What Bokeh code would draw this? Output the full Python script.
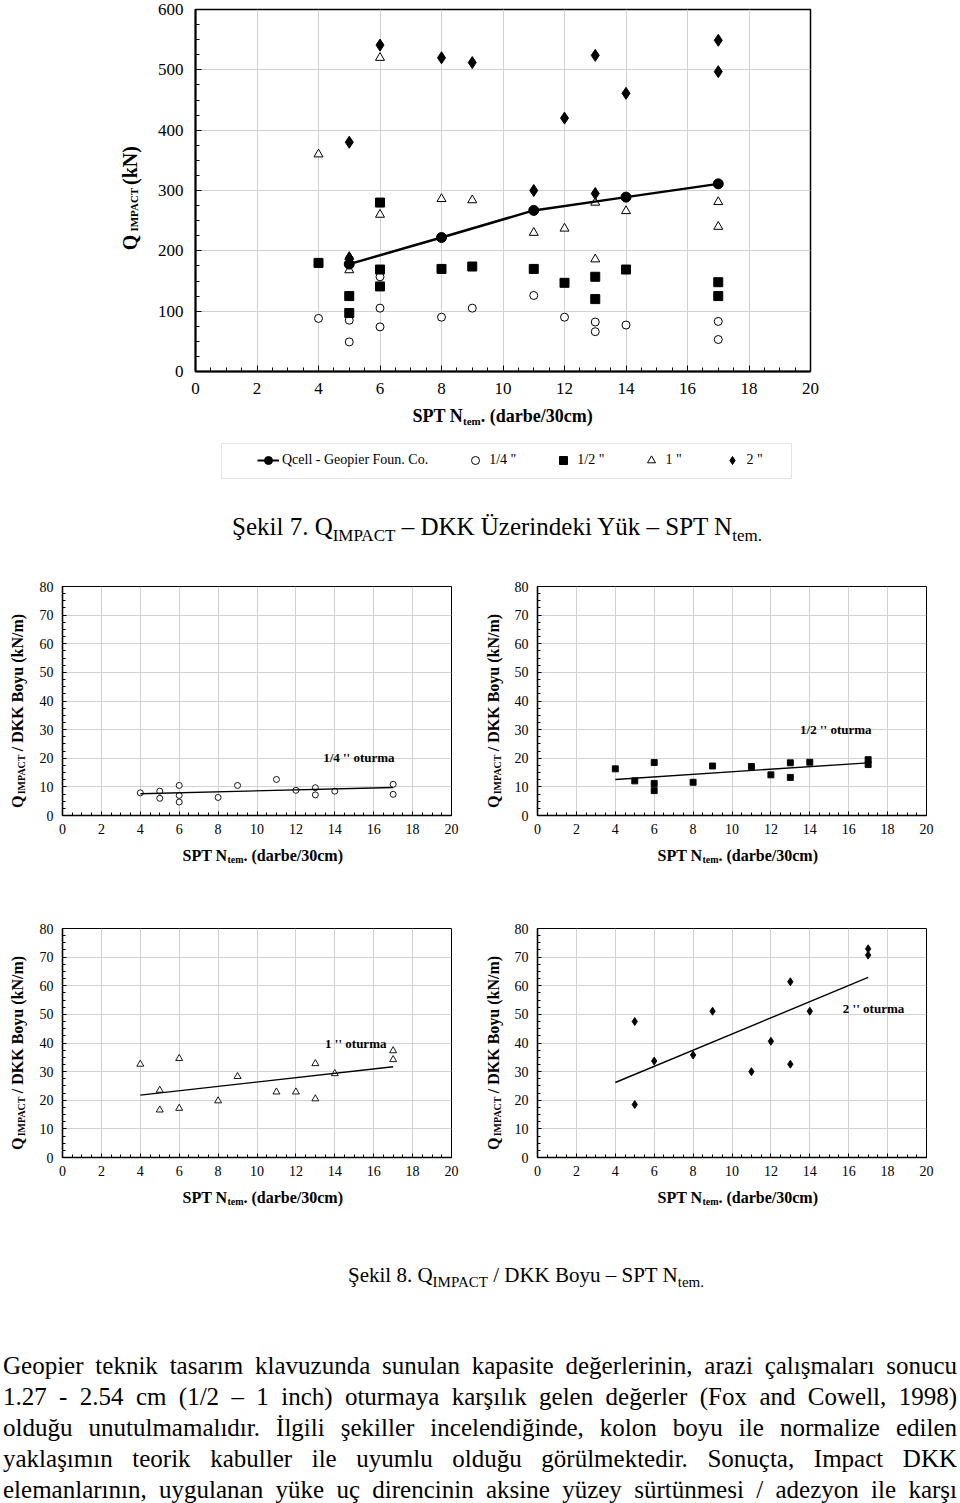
import math
from bokeh.plotting import figure
from bokeh.models import Range1d, SingleIntervalTicker, Label, Legend, LegendItem, Div, BoxAnnotation
from bokeh.layouts import column, row
from bokeh.embed import file_html
from bokeh.resources import INLINE

SERIF = "Liberation Serif"

# ---------------- Data: Şekil 7 (Q IMPACT, kN) ----------------
qcell_x = [5, 8, 11, 14, 17]
qcell_y = [178, 222, 267, 289, 311]

q14_x = [4, 5, 5, 6, 6, 6, 8, 9, 11, 12, 13, 13, 14, 17, 17]
q14_y = [88, 85, 49, 157, 105, 74, 90, 105, 126, 90, 82, 66, 77, 83, 53]

q12_x = [4, 5, 5, 6, 6, 6, 8, 9, 11, 12, 13, 13, 14, 17, 17]
q12_y = [180, 125, 97, 280, 169, 141, 170, 174, 170, 147, 157, 120, 169, 148, 125]

q1_x = [4, 5, 5, 6, 6, 8, 9, 11, 12, 13, 13, 14, 17, 17]
q1_y = [360, 190, 168, 520, 260, 286, 284, 230, 237, 280, 186, 266, 281, 240]

q2_x = [5, 5, 6, 8, 9, 11, 12, 13, 13, 14, 17, 17]
q2_y = [380, 188, 541, 520, 512, 300, 420, 524, 295, 461, 549, 497]

# ---------------- Data: Şekil 8 (Q IMPACT / DKK Boyu, kN/m) ----------------
n14_x = [4, 5, 5, 6, 6, 6, 8, 9, 11, 12, 13, 13, 14, 17, 17]
n14_y = [7.9, 8.5, 6.0, 10.5, 7.0, 4.7, 6.3, 10.5, 12.6, 8.8, 9.7, 7.2, 8.5, 10.9, 7.4]
t14_x = [4, 17]
t14_y = [7.6, 9.8]

n12_x = [4, 5, 6, 6, 6, 8, 9, 11, 12, 13, 13, 14, 17, 17]
n12_y = [16.3, 12.1, 18.5, 11.2, 8.7, 11.6, 17.3, 17.1, 14.2, 18.4, 13.3, 18.6, 19.5, 17.8]
t12_x = [4, 17]
t12_y = [12.6, 18.4]

n1_x = [4, 5, 5, 6, 6, 8, 9, 11, 12, 13, 13, 14, 17, 17]
n1_y = [32.6, 23.5, 16.6, 34.6, 17.2, 19.8, 28.3, 22.9, 22.9, 32.8, 20.5, 29.3, 37.3, 34.2]
t1_x = [4, 17]
t1_y = [21.8, 31.7]

n2_x = [5, 5, 6, 8, 9, 11, 12, 13, 13, 14, 17, 17]
n2_y = [47.5, 18.5, 33.7, 35.8, 51.1, 30.0, 40.6, 61.4, 32.6, 51.1, 72.9, 70.7]
t2_x = [4, 17]
t2_y = [26.2, 62.9]

legend_labels = ["Qcell - Geopier Foun. Co.", '1/4 "', '1/2 "', '1 "', '2 "']
sub_notes = ["1/4 '' oturma", "1/2 '' oturma", "1 '' oturma", "2 '' oturma"]

caption7 = ('Şekil 7. Q<sub style="font-size:17px">IMPACT</sub> – DKK Üzerindeki Yük – '
            'SPT N<sub style="font-size:17px">tem.</sub>')
caption8 = ('Şekil 8. Q<sub style="font-size:15px">IMPACT</sub> / DKK Boyu – '
            'SPT N<sub style="font-size:15px">tem.</sub>')
para_lines = [
    "Geopier teknik tasarım klavuzunda sunulan kapasite değerlerinin, arazi çalışmaları sonucu",
    "1.27 - 2.54 cm (1/2 – 1 inch) oturmaya karşılık gelen değerler (Fox and Cowell, 1998)",
    "olduğu unutulmamalıdır. İlgili şekiller incelendiğinde, kolon boyu ile normalize edilen",
    "yaklaşımın teorik kabuller ile uyumlu olduğu görülmektedir. Sonuçta, Impact DKK",
    "elemanlarının, uygulanan yüke uç direncinin aksine yüzey sürtünmesi / adezyon ile karşı",
]

# ---------------- helpers ----------------
BW = {" ": 250, "(": 333, ")": 333, ".": 250, "/": 278, "0": 500, "3": 500,
      "A": 722, "B": 667, "C": 722, "D": 722, "I": 389, "K": 778, "M": 944, "N": 722,
      "P": 611, "Q": 778, "S": 556, "T": 667, "a": 500, "b": 556, "c": 444, "d": 556,
      "e": 444, "k": 556, "m": 833, "n": 556, "o": 500, "r": 444, "t": 333, "u": 556, "y": 500}


def tw(s, size):
    return sum(BW.get(ch, 500) for ch in s) * size / 1000.0


def canvas_fig(w, h):
    # plain drawing surface whose data units are local pixels (y downward)
    return figure(width=w, height=h, x_range=Range1d(0, w), y_range=Range1d(h, 0),
                  x_axis_type=None, y_axis_type=None, output_backend="svg",
                  toolbar_location=None, min_border=0, outline_line_color=None,
                  background_fill_color="white", border_fill_color="white")


def txt(p, x, y, text, size, angle=0.0, bold=True):
    p.add_layout(Label(x=x, y=y, text=text, angle=angle, text_font=SERIF,
                       text_font_size=f"{size}px", text_font_style="bold" if bold else "normal",
                       text_align="left", text_baseline="middle", text_color="black"))


def y_title(p, xc, ybot, main_size, sub_size, sub_dx, tail, tail_gap):
    y = ybot
    txt(p, xc, y, "Q", main_size, angle=math.pi / 2)
    y -= tw("Q", main_size) + 0.25 * main_size
    txt(p, xc + sub_dx, y, "IMPACT", sub_size, angle=math.pi / 2)
    y -= tw("IMPACT", sub_size) + tail_gap * main_size
    txt(p, xc, y, tail, main_size, angle=math.pi / 2)


def x_title(p, x0, yc, main_size, sub_size, sub_dy):
    x = x0
    txt(p, x, yc, "SPT N", main_size)
    x += tw("SPT N", main_size)
    txt(p, x, yc + sub_dy, "tem", sub_size)
    x += tw("tem", sub_size)
    txt(p, x, yc, ". (darbe/30cm)", main_size)


def make_fig(w, h, frame, origin, ymax, yint, fs, axis_w, out_w, tin, tmin, xstand, ystand):
    ox, oy = origin
    FL, FR, FT, FB = frame
    p = figure(width=w, height=h, x_range=Range1d(0, 20), y_range=Range1d(0, ymax),
               output_backend="svg", toolbar_location=None,
               min_border_left=FL - ox, min_border_right=ox + w - FR,
               min_border_top=FT - oy, min_border_bottom=oy + h - FB,
               background_fill_color="white", border_fill_color="white",
               outline_line_color="black", outline_line_width=out_w)
    p.xaxis.ticker = SingleIntervalTicker(interval=2, num_minor_ticks=4)
    p.yaxis.ticker = SingleIntervalTicker(interval=yint, num_minor_ticks=4)
    for ax in (p.xaxis, p.yaxis):
        ax.major_label_text_font = SERIF
        ax.major_label_text_font_size = fs
        ax.major_label_text_color = "black"
        ax.axis_line_color = "black"
        ax.axis_line_width = axis_w
        ax.major_tick_in = tin
        ax.major_tick_out = 0
        ax.minor_tick_in = tmin
        ax.minor_tick_out = 0
        ax.major_tick_line_color = "black"
        ax.minor_tick_line_color = "black"
    p.xaxis.major_label_standoff = xstand
    p.yaxis.major_label_standoff = ystand
    p.grid.grid_line_color = "#d2d2d2"
    p.grid.grid_line_width = 1
    return p


# ---------------- Şekil 7 main chart (page y 0-400) ----------------
main = make_fig(815, 400, (195, 810, 9, 371), (145, 0), 600, 100, "17px", 2, 1.5, 6, 4, 11, 12)
main.scatter(q14_x, q14_y, marker="circle", size=8, fill_color="white", line_color="black", line_width=1)
main.scatter(q12_x, q12_y, marker="square", size=9, fill_color="black", line_color="black")
main.scatter(q1_x, q1_y, marker="triangle", size=9, fill_color="white", line_color="black", line_width=1)
main.scatter(q2_x, q2_y, marker="diamond", size=12, fill_color="black", line_color="black")
main.line(qcell_x, qcell_y, line_color="black", line_width=2.5)
main.scatter(qcell_x, qcell_y, marker="circle", size=10, fill_color="black", line_color="black")

ytm = canvas_fig(145, 400)
y_title(ytm, 129, 266, 20, 11, 4, "(kN)", 0.35)

# ---------------- x title + legend strip (page y 400-490) ----------------
strip1 = canvas_fig(960, 90)
x_title(strip1, 412, 15, 18, 11, 5)
strip1.add_layout(BoxAnnotation(left=221, right=791, top=43, bottom=78, fill_alpha=0,
                                line_color="#a6a6a6", line_width=1))
r_l = strip1.line(x=[-60, -40], y=[-50, -50], line_color="black", line_width=2)
r_c = strip1.scatter(x=[-50], y=[-50], marker="circle", fill_color="black", line_color="black")
r_14 = strip1.scatter(x=[-50], y=[-50], marker="circle", fill_color="white", line_color="black")
r_12 = strip1.scatter(x=[-50], y=[-50], marker="square", fill_color="black", line_color="black")
r_1 = strip1.scatter(x=[-50], y=[-50], marker="triangle", fill_color="white", line_color="black")
r_2 = strip1.scatter(x=[-50], y=[-50], marker="diamond", fill_color="black", line_color="black")
leg = Legend(items=[LegendItem(label=legend_labels[0], renderers=[r_l, r_c]),
                    LegendItem(label=legend_labels[1], renderers=[r_14]),
                    LegendItem(label=legend_labels[2], renderers=[r_12]),
                    LegendItem(label=legend_labels[3], renderers=[r_1]),
                    LegendItem(label=legend_labels[4], renderers=[r_2])],
             orientation="horizontal", location=(257, 20), padding=0, margin=0, spacing=36,
             glyph_width=22, glyph_height=20, label_standoff=3, label_height=18,
             label_text_font=SERIF, label_text_font_size="14px", label_text_color="black",
             border_line_color=None, background_fill_alpha=0)
strip1.add_layout(leg)

# ---------------- Şekil 8 small charts ----------------
def small(w, frame, origin, xs, ys, marker, size, filled, tx, ty, note, note_xy):
    p = make_fig(w, 275, frame, origin, 80, 10, "14px", 1.6, 1, 4, 3, 8, 9)
    p.scatter(xs, ys, marker=marker, size=size, fill_color="black" if filled else "white",
              line_color="black", line_width=0.9)
    p.line(tx, ty, line_color="black", line_width=1.4)
    p.add_layout(Label(x=note_xy[0], y=note_xy[1], text=note, text_font=SERIF, text_font_size="13px",
                       text_font_style="bold", text_align="left", text_baseline="middle",
                       text_color="black"))
    return p


s1 = small(452, (62, 451, 586, 815), (28, 570), n14_x, n14_y, "circle", 6, False, t14_x, t14_y,
           sub_notes[0], (13.4, 20.3))
s2 = small(456, (537, 926, 586, 815), (504, 570), n12_x, n12_y, "square", 6, True, t12_x, t12_y,
           sub_notes[1], (13.5, 30.0))
s3 = small(452, (62, 451, 928, 1157), (28, 912), n1_x, n1_y, "triangle", 7, False, t1_x, t1_y,
           sub_notes[2], (13.5, 39.8))
s4 = small(456, (537, 926, 928, 1157), (504, 912), n2_x, n2_y, "diamond", 8, True, t2_x, t2_y,
           sub_notes[3], (15.7, 52.0))

yt = []
for w, xc in ((28, 17), (24, 13), (28, 17), (24, 13)):
    c = canvas_fig(w, 275)
    y_title(c, xc, 266, 16, 10, 4, "/ DKK Boyu (kN/m)", 0.7)
    yt.append(c)

xs1 = canvas_fig(960, 67)
x_title(xs1, 182, 10, 16, 10, 4)
x_title(xs1, 657, 10, 16, 10, 4)
xs2 = canvas_fig(960, 67)
x_title(xs2, 182, 10, 16, 10, 4)
x_title(xs2, 657, 10, 16, 10, 4)

# ---------------- text blocks ----------------
def caption_div(html, size, pad_top, pad_left, h):
    return Div(text=(f'<div style="font-family:\'Liberation Serif\',serif;font-size:{size}px;'
                     f'line-height:30px;padding-top:{pad_top}px;padding-left:{pad_left}px;'
                     f'text-align:left;color:black;white-space:nowrap;">{html}</div>'),
               width=960, height=h, margin=0)


cap7 = caption_div(caption7, 25, 22, 232, 80)
cap8 = caption_div(caption8, 21, 6, 348, 80)

lines_html = "".join(
    f'<div style="height:31px;line-height:31px;text-align:justify;text-align-last:justify;'
    f'overflow:hidden;">{ln}</div>' for ln in para_lines)
para = Div(text=(f'<div style="font-family:\'Liberation Serif\',serif;font-size:25px;color:black;'
                 f'box-sizing:border-box;padding-top:16px;width:954px;height:169px;overflow:hidden;">'
                 f'{lines_html}</div>'),
           width=954, height=169, margin=(0, 0, 0, 3))

layout = column(
    row(ytm, main, spacing=0),
    strip1,
    cap7,
    row(yt[0], s1, yt[1], s2, spacing=0),
    xs1,
    row(yt[2], s3, yt[3], s4, spacing=0),
    xs2,
    cap8,
    para,
    spacing=0,
)

open("out.html", "w").write(file_html(layout, INLINE))
